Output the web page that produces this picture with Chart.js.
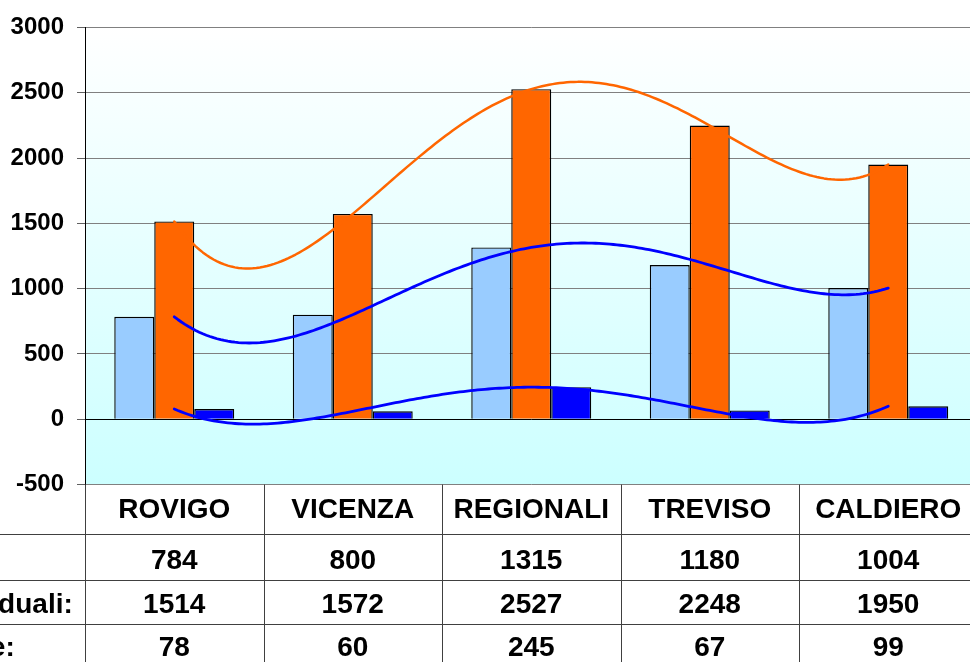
<!DOCTYPE html>
<html>
<head>
<meta charset="utf-8">
<script src="https://cdn.jsdelivr.net/npm/chart.js@4.4.1/dist/chart.umd.min.js"></script>
<style>
  html, body { margin: 0; padding: 0; overflow: hidden; background: #ffffff; width: 970px; height: 662px; }
  #wrap { position: absolute; left: 0; top: 0; width: 990px; height: 680px; }
</style>
</head>
<body>
<div id="wrap"><canvas id="c" width="990" height="680"></canvas></div>
<script>
// ---- data ----
const categories = ['ROVIGO', 'VICENZA', 'REGIONALI', 'TREVISO', 'CALDIERO'];
const seriesA = [784, 800, 1315, 1180, 1004];
const seriesB = [1514, 1572, 2527, 2248, 1950];
const seriesC = [78, 60, 245, 67, 99];
const rowLabels = ['Soci:', 'Individuali:', 'Totale:'];
const yTicks = { min: -500, max: 3000, step: 500 };

const colorA = '#99CCFF';
const colorB = '#FF6600';
const colorC = '#0000FF';

const FONT = '"Liberation Sans", Arial, sans-serif';

// polynomial trendline (order n-1 through n points, as in the spreadsheet trendline)
function trendValue(vals, x) {
  let s = 0;
  for (let i = 0; i < vals.length; i++) {
    let l = 1;
    for (let j = 0; j < vals.length; j++) {
      if (j !== i) l *= (x - j) / (i - j);
    }
    s += vals[i] * l;
  }
  return s;
}

const bgPlugin = {
  id: 'bg',
  beforeDraw(chart) {
    const { ctx, chartArea: a } = chart;
    const g = ctx.createLinearGradient(0, a.top, 0, a.bottom);
    g.addColorStop(0, '#FFFFFF');
    g.addColorStop(1, '#CCFFFF');
    ctx.save();
    ctx.fillStyle = g;
    ctx.fillRect(a.left, a.top, a.right - a.left, a.bottom - a.top);
    ctx.restore();
  }
};

const trendPlugin = {
  id: 'trend',
  afterDatasetsDraw(chart) {
    const { ctx } = chart;
    const xs = chart.scales.x, ys = chart.scales.y;
    const lines = [
      { vals: seriesA, color: '#0000FF', w: 2.8 },
      { vals: seriesB, color: '#FF6600', w: 2.5 },
      { vals: seriesC, color: '#0000FF', w: 2.8 }
    ];
    ctx.save();
    ctx.lineJoin = 'round';
    ctx.lineCap = 'round';
    lines.forEach(l => {
      ctx.beginPath();
      const n = l.vals.length - 1;
      const steps = 200;
      for (let k = 0; k <= steps; k++) {
        const x = n * k / steps;
        const px = xs.getPixelForValue(x);
        const py = ys.getPixelForValue(trendValue(l.vals, x));
        if (k === 0) ctx.moveTo(px, py); else ctx.lineTo(px, py);
      }
      ctx.strokeStyle = l.color;
      ctx.lineWidth = l.w;
      ctx.stroke();
    });
    ctx.restore();
  }
};

const tablePlugin = {
  id: 'table',
  afterDraw(chart) {
    const { ctx, chartArea: a } = chart;
    const xs = chart.scales.x;
    const top = a.bottom;
    const rowLines = [top + 49.5, top + 95.5, top + 139.5];
    const rowCenters = [top + 26, top + 77, top + 121, top + 164];
    const bottom = chart.height;
    ctx.save();
    ctx.strokeStyle = '#404040';
    ctx.lineWidth = 1;
    rowLines.forEach(y => {
      ctx.beginPath();
      ctx.moveTo(0, Math.round(y) + 0.5);
      ctx.lineTo(chart.width, Math.round(y) + 0.5);
      ctx.stroke();
    });
    for (let i = 0; i <= categories.length; i++) {
      const x = Math.round(xs.getPixelForValue(i - 0.5)) + 0.5;
      ctx.beginPath();
      ctx.moveTo(x, top);
      ctx.lineTo(x, bottom);
      ctx.stroke();
    }
    ctx.fillStyle = '#000000';
    ctx.font = 'bold 28px ' + FONT;
    ctx.textAlign = 'center';
    ctx.textBaseline = 'middle';
    categories.forEach((c, i) => {
      ctx.fillText(c, xs.getPixelForValue(i), rowCenters[0]);
    });
    [seriesA, seriesB, seriesC].forEach((s, r) => {
      s.forEach((v, i) => {
        ctx.fillText(String(v), xs.getPixelForValue(i), rowCenters[r + 1]);
      });
    });
    ctx.textAlign = 'left';
    rowLabels.forEach((lab, r) => {
      ctx.fillText(lab, -75, rowCenters[r + 1]);
    });
    ctx.restore();
  }
};

new Chart(document.getElementById('c'), {
  type: 'bar',
  data: {
    labels: categories,
    datasets: [
      { label: rowLabels[0], data: seriesA, backgroundColor: colorA, borderColor: '#000', borderWidth: 1.4 },
      { label: rowLabels[1], data: seriesB, backgroundColor: colorB, borderColor: '#000', borderWidth: 1.4 },
      { label: rowLabels[2], data: seriesC, backgroundColor: colorC, borderColor: '#000', borderWidth: 1.4 }
    ]
  },
  options: {
    responsive: false,
    animation: false,
    devicePixelRatio: 1,
    layout: { padding: { top: 25, bottom: 680 - 484.5, left: 0, right: 12.5 } },
    plugins: { legend: { display: false }, tooltip: { enabled: false } },
    datasets: { bar: { categoryPercentage: 0.672, barPercentage: 1 } },
    scales: {
      x: { display: false, offset: true },
      y: {
        min: yTicks.min, max: yTicks.max,
        afterFit(scale) { scale.width = 85; },
        ticks: {
          stepSize: yTicks.step,
          color: '#000',
          font: { family: FONT, size: 24, weight: 'bold' },
          padding: 13,
          callback: v => String(v)
        },
        grid: {
          color: c => (c.tick && c.tick.value === 0) ? '#000000' : '#808080',
          tickColor: '#606060',
          tickLength: 8,
          lineWidth: 1
        },
        border: { display: true, color: '#000', width: 1 }
      }
    }
  },
  plugins: [bgPlugin, trendPlugin, tablePlugin]
});
</script>
</body>
</html>
